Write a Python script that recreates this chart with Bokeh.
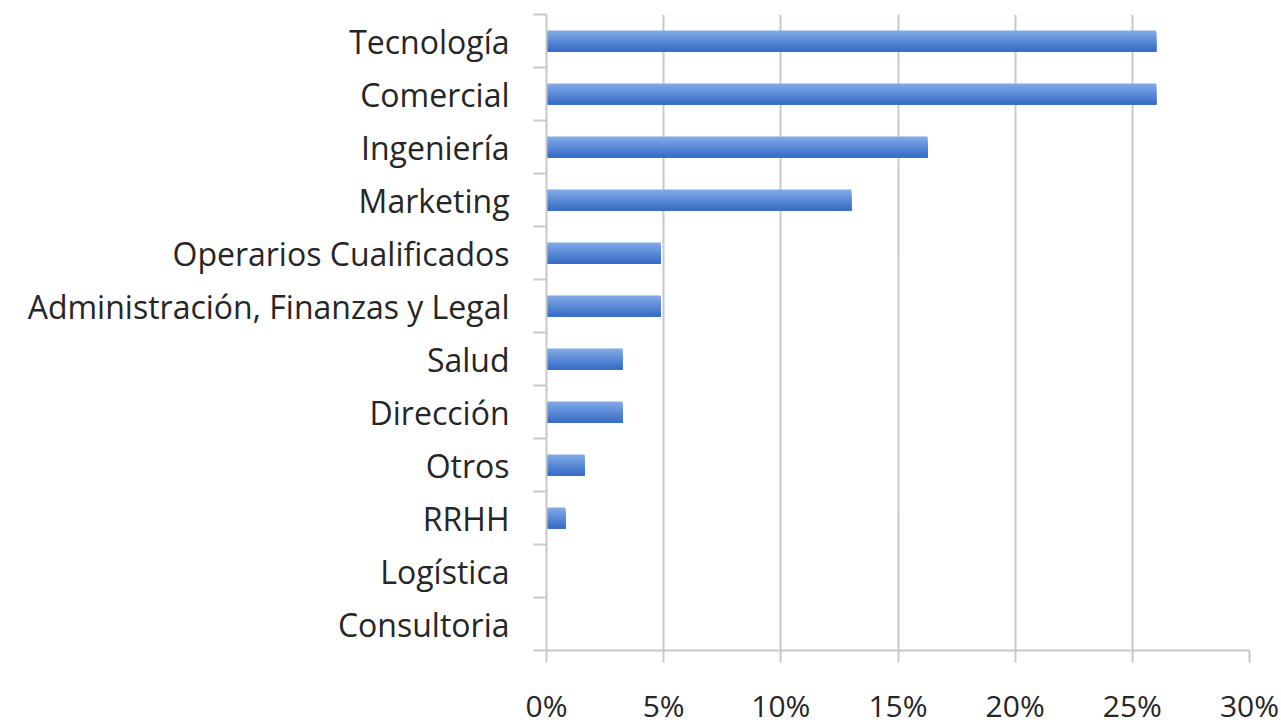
from bokeh.plotting import figure
from bokeh.models import FixedTicker, Range1d, ColumnDataSource
from bokeh.embed import file_html
from bokeh.resources import INLINE

categories = ["Tecnología", "Comercial", "Ingeniería", "Marketing",
              "Operarios Cualificados", "Administración, Finanzas y Legal",
              "Salud", "Dirección", "Otros", "RRHH", "Logística", "Consultoria"]
values = [26.02, 26.02, 16.26, 13.01, 4.88, 4.88, 3.25, 3.25, 1.63, 0.81, 0.0, 0.0]
x_ticks = [0, 5, 10, 15, 20, 25, 30]
x_tick_labels = ["0%", "5%", "10%", "15%", "20%", "25%", "30%"]

n = len(categories)
centers = [n - 0.5 - i for i in range(n)]
bounds = list(range(n + 1))

FONT = "Open Sans"
GRID = "#c8c8c8"
TEXT = "#262626"

p = figure(width=1281, height=728, output_backend="svg", toolbar_location=None,
           x_range=Range1d(0, 30), y_range=Range1d(0, n))
p.min_border_left = 546
p.min_border_right = 32
p.min_border_top = 14
p.min_border_bottom = 76
p.outline_line_color = None
p.background_fill_color = "white"

# gradient bars built from overlapping horizontal strips (light top -> dark bottom)
bar_h = 0.4
top_col = (0x80, 0xa8, 0xe6)
bot_col = (0x38, 0x6d, 0xc6)
strips = 12
sh = bar_h / strips
for k in range(strips):
    t = k / (strips - 1)
    c = tuple(int(round(top_col[j] + (bot_col[j] - top_col[j]) * t)) for j in range(3))
    col = "#%02x%02x%02x" % c
    hk = bar_h - k * sh
    ys = [cy - bar_h / 2 + hk / 2 for cy in centers]
    src = ColumnDataSource(dict(y=ys, right=values))
    p.hbar(y="y", right="right", left=0, height=hk, source=src,
           fill_color=col, line_color=None)

# x axis
xa = p.xaxis[0]
xa.ticker = FixedTicker(ticks=x_ticks)
xa.major_label_overrides = {t: l for t, l in zip(x_ticks, x_tick_labels)}
xa.axis_line_color = GRID
xa.axis_line_width = 2
xa.major_tick_line_color = GRID
xa.major_tick_line_width = 2
xa.major_tick_out = 12
xa.major_tick_in = 0
xa.minor_tick_line_color = None
xa.major_label_standoff = 22
xa.major_label_text_font = FONT
xa.major_label_text_font_size = "30px"
xa.major_label_text_color = TEXT

# y axis
ya = p.yaxis[0]
ya.ticker = FixedTicker(ticks=centers, minor_ticks=bounds)
ya.major_label_overrides = {c: l for c, l in zip(centers, categories)}
ya.axis_line_color = GRID
ya.axis_line_width = 2
ya.major_tick_line_color = None
ya.major_tick_out = 0
ya.major_tick_in = 0
ya.minor_tick_line_color = GRID
ya.minor_tick_line_width = 2
ya.minor_tick_out = 13
ya.minor_tick_in = 0
ya.major_label_standoff = 24
ya.major_label_text_font = FONT
ya.major_label_text_font_size = "32px"
ya.major_label_text_color = TEXT

p.xgrid.ticker = FixedTicker(ticks=x_ticks)
p.xgrid.grid_line_color = GRID
p.xgrid.grid_line_width = 2
p.ygrid.grid_line_color = None

open("out.html", "w").write(file_html(p, INLINE))
